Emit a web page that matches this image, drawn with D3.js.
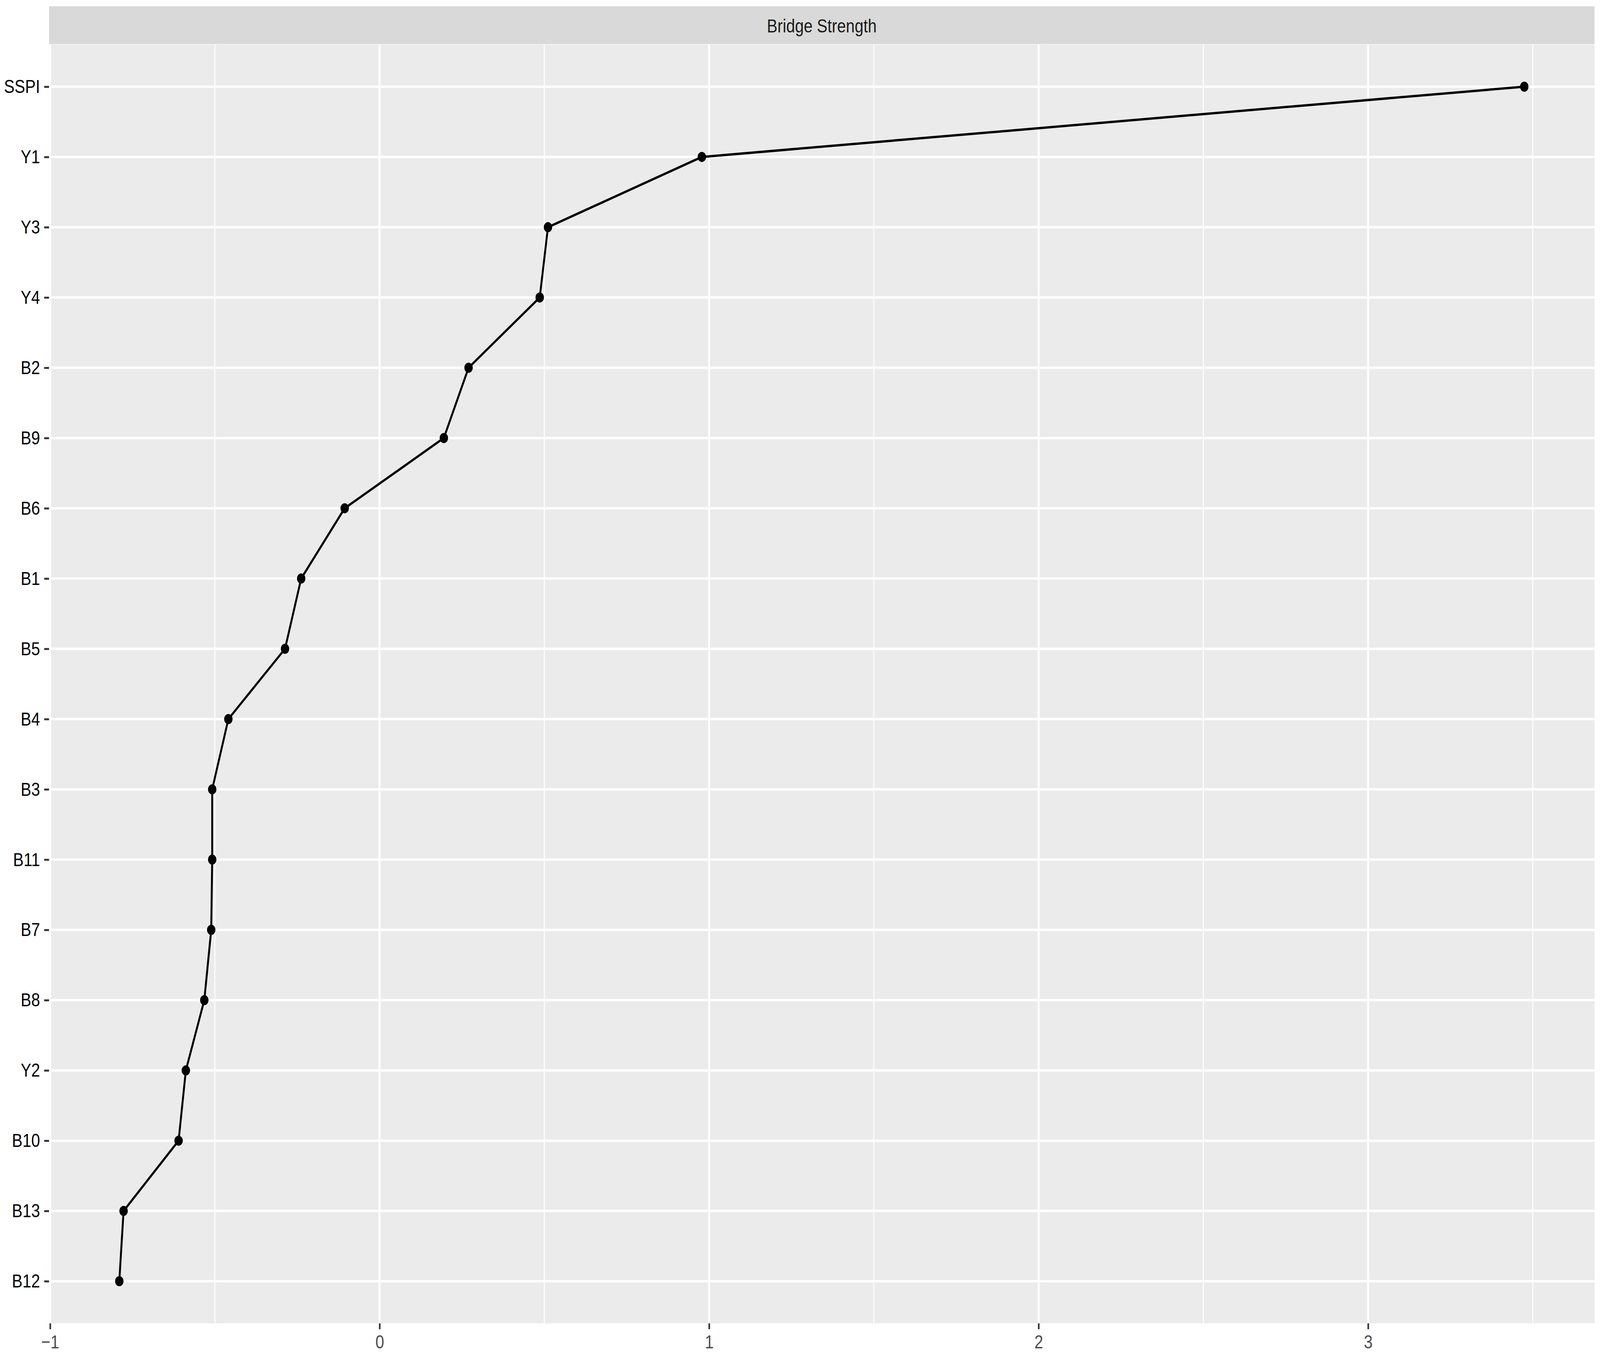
<!DOCTYPE html>
<html>
<head>
<meta charset="utf-8">
<script src="https://cdn.jsdelivr.net/npm/d3@7"></script>
<style>
  html, body { margin: 0; padding: 0; background: #fff; overflow: hidden; }
  #chart svg { display: block; }
  text { font-family: "Liberation Sans", Arial, sans-serif; }
</style>
</head>
<body>
<div id="chart"></div>
<script>
// node names, top to bottom
var nodes = ["SSPI", "Y1", "Y3", "Y4", "B2", "B9", "B6", "B1", "B5", "B4",
             "B3", "B11", "B7", "B8", "Y2", "B10", "B13", "B12"];
// bridge strength (z-scores)
var bridgeStrength = [3.474, 0.978, 0.511, 0.486, 0.270, 0.195, -0.106, -0.238, -0.287, -0.459,
                      -0.508, -0.508, -0.511, -0.532, -0.588, -0.610, -0.777, -0.790];
var xTicks = [-1, 0, 1, 2, 3];
var xMinorTicks = [-0.5, 0.5, 1.5, 2.5, 3.5];
var stripTitle = "Bridge Strength";

// drawing is laid out on the reference's 4959x3470 grid and stretched to the window
var width = 4959;
var height = 3470;
var panel = { left: 152, right: 4942, top: 114, bottom: 3389 };
var stripTop = 16;
var fontSize = 49;

var data = nodes.map(function (d, i) {
    return { node: d, value: bridgeStrength[i] };
});

var svg = d3.select("#chart")
    .append("svg")
    .attr("width", window.innerWidth || width)
    .attr("height", window.innerHeight || height)
    .attr("viewBox", `0 0 ${width} ${height}`)
    .attr("preserveAspectRatio", "none");

// ggplot-style 5% expansion on the continuous axis
var xMin = d3.min(bridgeStrength);
var xMax = d3.max(bridgeStrength);
var pad = (xMax - xMin) * 0.05;

var xScale = d3.scaleLinear()
    .domain([xMin - pad, xMax + pad])
    .range([panel.left, panel.right]);

var yScale = d3.scalePoint()
    .domain(nodes)
    .range([panel.top, panel.bottom])
    .padding(0.6);

// strip
svg.append("rect")
    .attr("x", panel.left)
    .attr("y", stripTop)
    .attr("width", panel.right - panel.left)
    .attr("height", panel.top - stripTop - 1)
    .attr("fill", "#D9D9D9");

svg.append("text")
    .attr("x", (panel.left + panel.right) / 2)
    .attr("y", (stripTop + panel.top) / 2 + fontSize * 0.36)
    .attr("text-anchor", "middle")
    .attr("font-size", fontSize)
    .attr("fill", "#1A1A1A")
    .text(stripTitle);

// panel background
svg.append("rect")
    .attr("x", panel.left)
    .attr("y", panel.top)
    .attr("width", panel.right - panel.left)
    .attr("height", panel.bottom - panel.top)
    .attr("fill", "#EBEBEB");

// grid lines
var grid = svg.append("g").attr("class", "grid");

grid.selectAll("line.minor")
    .data(xMinorTicks)
    .enter()
    .append("line")
    .attr("class", "minor")
    .attr("x1", function (d) { return xScale(d); })
    .attr("x2", function (d) { return xScale(d); })
    .attr("y1", panel.top)
    .attr("y2", panel.bottom)
    .attr("stroke", "#fff")
    .attr("stroke-width", 3);

grid.selectAll("line.majorX")
    .data(xTicks)
    .enter()
    .append("line")
    .attr("class", "majorX")
    .attr("x1", function (d) { return xScale(d); })
    .attr("x2", function (d) { return xScale(d); })
    .attr("y1", panel.top)
    .attr("y2", panel.bottom)
    .attr("stroke", "#fff")
    .attr("stroke-width", 6);

grid.selectAll("line.majorY")
    .data(nodes)
    .enter()
    .append("line")
    .attr("class", "majorY")
    .attr("x1", panel.left)
    .attr("x2", panel.right)
    .attr("y1", function (d) { return yScale(d); })
    .attr("y2", function (d) { return yScale(d); })
    .attr("stroke", "#fff")
    .attr("stroke-width", 6);

// axes
var xAxis = d3.axisBottom(xScale)
    .tickValues(xTicks)
    .tickSize(15)
    .tickPadding(14)
    .tickFormat(function (d) { return d < 0 ? "\u2212" + Math.abs(d) : d; });

var gx = svg.append("g")
    .attr("transform", `translate(0, ${panel.bottom})`)
    .call(xAxis);
gx.select(".domain").remove();
gx.selectAll(".tick line").attr("stroke", "#333333").attr("stroke-width", 5);
gx.selectAll(".tick text")
    .attr("font-size", fontSize)
    .attr("font-family", "Liberation Sans, Arial, sans-serif")
    .attr("fill", "#4D4D4D");

var yAxis = d3.axisLeft(yScale)
    .tickSize(15)
    .tickPadding(13);

var gy = svg.append("g")
    .attr("transform", `translate(${panel.left}, 0)`)
    .call(yAxis);
gy.select(".domain").remove();
gy.selectAll(".tick line").attr("stroke", "#333333").attr("stroke-width", 5);
gy.selectAll(".tick text")
    .attr("font-size", fontSize)
    .attr("font-family", "Liberation Sans, Arial, sans-serif")
    .attr("fill", "#000");

// line + points
var line = d3.line()
    .x(function (d) { return xScale(d.value); })
    .y(function (d) { return yScale(d.node); });

svg.append("path")
    .datum(data)
    .attr("d", line)
    .attr("fill", "none")
    .attr("stroke", "#000")
    .attr("stroke-width", 6)
    .attr("stroke-linejoin", "round");

svg.selectAll("circle.pt")
    .data(data)
    .enter()
    .append("circle")
    .attr("class", "pt")
    .attr("cx", function (d) { return xScale(d.value); })
    .attr("cy", function (d) { return yScale(d.node); })
    .attr("r", 13)
    .attr("fill", "#000");
</script>
</body>
</html>
